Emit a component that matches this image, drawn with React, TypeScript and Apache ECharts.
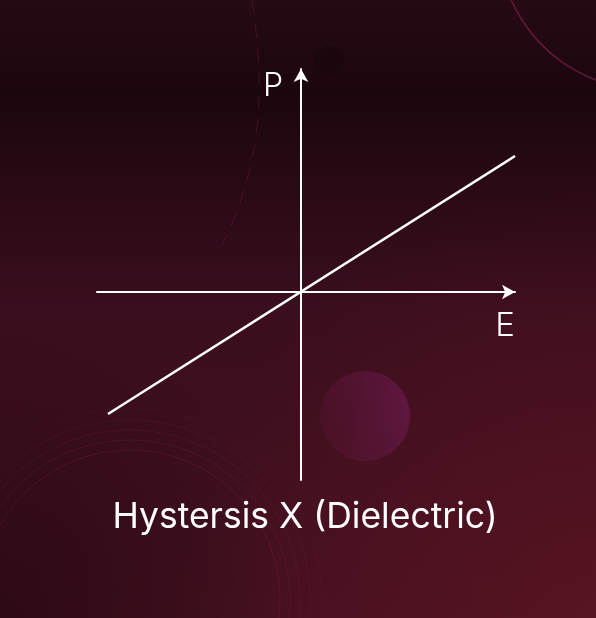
import React, { useEffect, useRef } from "react";
import * as echarts from "echarts";

const eRange = [-2.04, 2.14];
const pRange = [-1.88, 2.23];
const curveE = [-1.93, 2.14];
const curveP = [-1.22, 1.36];
const axisNames = ["E", "P"];
const chartTitle = "Hystersis X (Dielectric)";

export default function App() {
  const ref = useRef<HTMLDivElement>(null);
  useEffect(() => {
    document.body.style.margin = "0";
    const chart = echarts.init(ref.current!, null, { renderer: "svg" });
    const rings = [150, 160, 170, 180, 192].map((r, i) => ({
      type: "circle",
      z: -9,
      silent: true,
      shape: { cx: 130, cy: 600, r },
      style: { fill: "none", stroke: "rgba(160,40,110," + (0.2 - i * 0.03) + ")", lineWidth: 1 },
    }));
    chart.setOption({
      animation: false,
      grid: { left: 97, right: 81, top: 69, bottom: 138 },
      xAxis: {
        type: "value",
        min: eRange[0],
        max: eRange[1],
        axisLine: {
          show: true,
          onZero: true,
          symbol: ["none", "arrow"],
          symbolSize: [11, 13],
          lineStyle: { color: "#ffffff", width: 2 },
        },
        axisTick: { show: false },
        axisLabel: { show: false },
        splitLine: { show: false },
      },
      yAxis: {
        type: "value",
        min: pRange[0],
        max: pRange[1],
        axisLine: {
          show: true,
          onZero: true,
          symbol: ["none", "arrow"],
          symbolSize: [11, 13],
          lineStyle: { color: "#ffffff", width: 2 },
        },
        axisTick: { show: false },
        axisLabel: { show: false },
        splitLine: { show: false },
      },
      series: [
        {
          type: "line",
          data: curveE.map((e, i) => [e, curveP[i]]),
          symbol: "none",
          lineStyle: { color: "#ffffff", width: 2.5 },
          z: 3,
        },
      ],
      graphic: [
        {
          type: "rect",
          z: -10,
          silent: true,
          shape: { x: 0, y: 0, width: 596, height: 618 },
          style: {
            fill: {
              type: "linear",
              x: 0,
              y: 0,
              x2: 0,
              y2: 1,
              colorStops: [
                { offset: 0, color: "#260a14" },
                { offset: 0.15, color: "#1c060e" },
                { offset: 0.5, color: "#3a0e1e" },
                { offset: 1, color: "#441020" },
              ],
            },
          },
        },
        {
          type: "rect",
          z: -10,
          silent: true,
          shape: { x: 0, y: 0, width: 596, height: 618 },
          style: {
            fill: {
              type: "radial",
              x: 1,
              y: 1,
              r: 0.7,
              colorStops: [
                { offset: 0, color: "rgba(100,22,34,0.6)" },
                { offset: 1, color: "rgba(100,22,34,0)" },
              ],
            },
          },
        },
        {
          type: "rect",
          z: -10,
          silent: true,
          shape: { x: 0, y: 0, width: 596, height: 618 },
          style: {
            fill: {
              type: "radial",
              x: 0,
              y: 1,
              r: 0.5,
              colorStops: [
                { offset: 0, color: "rgba(30,6,14,0.6)" },
                { offset: 1, color: "rgba(30,6,14,0)" },
              ],
            },
          },
        },
        {
          type: "circle",
          z: -9,
          silent: true,
          shape: { cx: 365, cy: 416, r: 45 },
          style: {
            fill: {
              type: "linear",
              x: 0,
              y: 0.5,
              x2: 1,
              y2: 0.3,
              colorStops: [
                { offset: 0, color: "rgba(90,22,55,0.3)" },
                { offset: 1, color: "rgba(100,24,70,0.85)" },
              ],
            },
          },
        },
        {
          type: "circle",
          z: -9,
          silent: true,
          shape: { cx: 329, cy: 60, r: 14 },
          style: { fill: "rgba(12,2,6,0.25)" },
        },
        {
          type: "circle",
          z: -9,
          silent: true,
          shape: { cx: 650, cy: -62, r: 152 },
          style: { fill: "none", stroke: "rgba(150,40,90,0.55)", lineWidth: 1.5 },
        },
        {
          type: "bezierCurve",
          z: -9,
          silent: true,
          shape: { x1: 252, y1: 0, cpx1: 264, cpy1: 80, cpx2: 265, cpy2: 160, x2: 222, y2: 245 },
          style: { fill: "none", stroke: "rgba(150,40,90,0.3)", lineWidth: 1, lineDash: [14, 10] },
        },
        ...rings,
        {
          type: "text",
          z: 5,
          x: 273,
          y: 84,
          style: {
            text: axisNames[1],
            fill: "#ffffff",
            font: "300 32px Inter",
            align: "center",
            verticalAlign: "middle",
          },
        },
        {
          type: "text",
          z: 5,
          x: 505,
          y: 324,
          style: {
            text: axisNames[0],
            fill: "#ffffff",
            font: "300 33px Inter",
            align: "center",
            verticalAlign: "middle",
          },
        },
        {
          type: "text",
          z: 5,
          x: 305,
          y: 515,
          style: {
            text: chartTitle,
            fill: "#ffffff",
            font: "400 35.5px Inter",
            align: "center",
            verticalAlign: "middle",
          },
        },
      ],
    });
    return () => chart.dispose();
  }, []);
  return (
    <div
      ref={ref}
      style={{ position: "fixed", left: 0, top: 0, width: 596, height: 618 }}
    />
  );
}
